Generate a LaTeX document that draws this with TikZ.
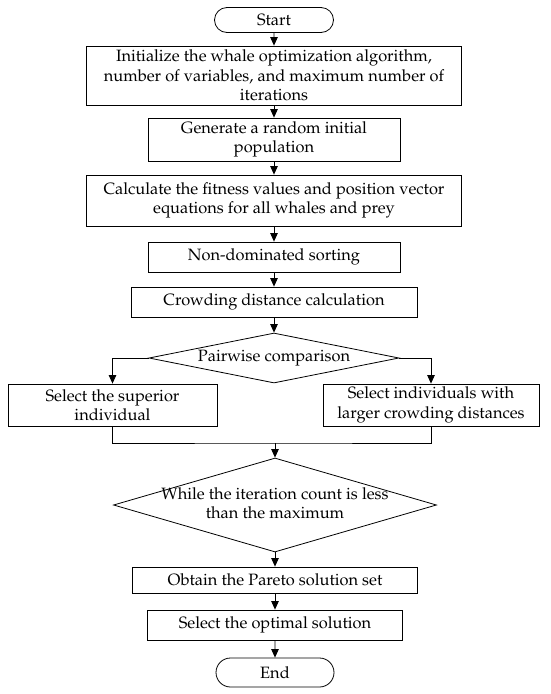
\documentclass[tikz,border=0pt]{standalone}
\usepackage[T1]{fontenc}
\renewcommand{\rmdefault}{ppl}
\usetikzlibrary{shapes.geometric,shapes.misc,arrows.meta}
\begin{document}
\begin{tikzpicture}[x=1pt,y=-1pt,
  every node/.style={font=\fontsize{16.4}{19.5}\selectfont, line width=0.8pt},
  box/.style={draw, rectangle, inner sep=0pt, align=center},
  term/.style={draw, rounded rectangle, inner sep=0pt},
  decision/.style={draw, diamond, inner sep=0pt},
  arr/.style={-{Triangle[length=8.5pt,width=7.5pt]}, line width=0.8pt},
  ln/.style={line width=0.8pt}]
\useasboundingbox (0,0) rectangle (550,694);
\node[term, minimum width=119pt, minimum height=25pt] (start) at (274,20) {Start};
\node[box, minimum width=375pt, minimum height=59pt] (init) at (274,75.5) {Initialize the whale optimization algorithm,\\number of variables, and maximum number of\\iterations};
\node[box, minimum width=252pt, minimum height=43pt] (gen) at (274,139.5) {Generate a random initial\\population};
\node[box, minimum width=375pt, minimum height=51pt] (calc) at (274,200.5) {Calculate the fitness values and position vector\\equations for all whales and prey};
\node[box, minimum width=252pt, minimum height=30pt] (nds) at (274,257) {Non-dominated sorting};
\node[box, minimum width=286pt, minimum height=30pt] (crowd) at (274,302) {Crowding distance calculation};
\node[decision, aspect=5, minimum width=250pt, minimum height=50pt] (pair) at (274,358) {Pairwise comparison};
\node[box, minimum width=209pt, minimum height=42pt] (sup) at (112.5,405) {Select the superior\\individual};
\node[box, minimum width=216pt, minimum height=42pt] (larg) at (431,405) {Select individuals with\\larger crowding distances};
\coordinate (mrg) at (275,443);
\node[decision, minimum width=323pt, minimum height=94pt] (loop) at (275,505) {\makebox[0pt]{\begin{tabular}{@{}c@{}}While the iteration count is less\\than the maximum\end{tabular}}};
\node[box, minimum width=285pt, minimum height=26pt] (par) at (275,580) {Obtain the Pareto solution set};
\node[box, minimum width=255pt, minimum height=30pt] (opt) at (275,625) {Select the optimal solution};
\node[term, minimum width=118pt, minimum height=29pt] (end) at (275,672.5) {End};
\draw[arr] (start) -- (init);
\draw[arr] (init) -- (gen);
\draw[arr] (gen) -- (calc);
\draw[arr] (calc) -- (nds);
\draw[arr] (nds) -- (crowd);
\draw[arr] (crowd) -- (pair);
\draw[arr] (pair.west) -| (sup.north);
\draw[arr] (pair.east) -| (larg.north);
\draw[ln] (sup.south) |- (mrg) -| (larg.south);
\draw[arr] (mrg) -- (loop.north);
\draw[arr] (loop) -- (par);
\draw[arr] (par) -- (opt);
\draw[arr] (opt) -- (end);
\end{tikzpicture}
\end{document}
